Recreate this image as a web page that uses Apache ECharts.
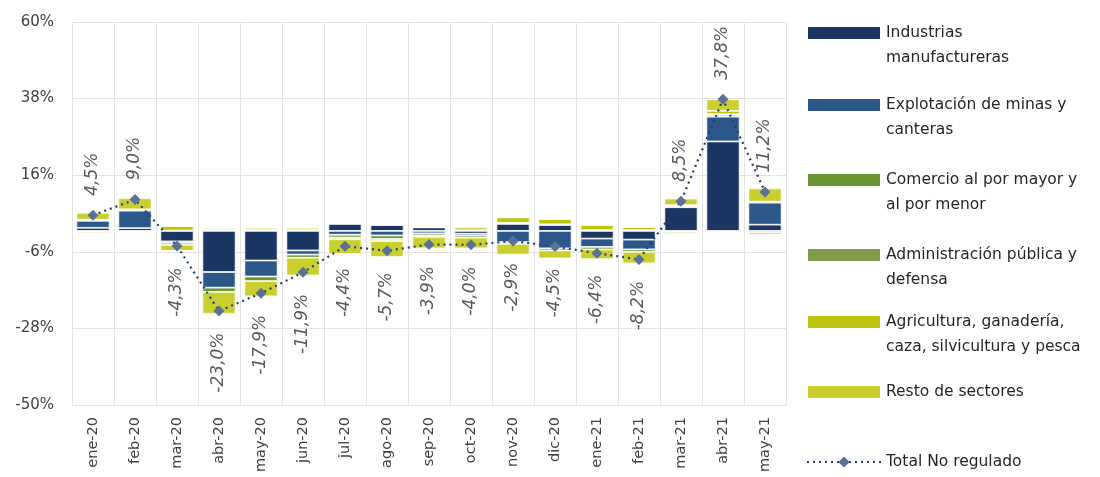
<!DOCTYPE html>
<html>
<head>
<meta charset="utf-8">
<script src="https://cdn.jsdelivr.net/npm/echarts@6/dist/echarts.min.js"></script>
<style>
  html, body { margin: 0; padding: 0; background: #ffffff; }
  #chart { width: 1100px; height: 477px; }
</style>
</head>
<body>
<div id="chart"></div>
<script>
// Months on the horizontal axis
const categories = ['ene-20','feb-20','mar-20','abr-20','may-20','jun-20','jul-20','ago-20','sep-20',
  'oct-20','nov-20','dic-20','ene-21','feb-21','mar-21','abr-21','may-21'];

// Contribution of each sector (percentage points)
const industrias  = [0.9, 0.8, -3.0, -11.8, -8.5, -5.6, 2.0, 1.7, 1.0, -0.8, 2.0, 1.7, -2.2, -2.5, 6.8, 25.7, 1.8];
const explotacion = [2.0, 5.0, -0.4, -4.5, -4.6, -1.2, -1.1, -1.3, -0.7, -0.5, -3.2, -5.0, -2.4, -2.8, 0.3, 7.1, 6.3];
const comercio    = [0.3, 0.4, -0.6, -1.2, -1.3, -0.9, -0.8, -1.0, -0.6, -0.6, -0.5, -0.6, -0.7, -0.7, 0.3, 0.5, 0.3];
const administracion = [-0.3, -0.2, 0.1, 0.3, 0.3, 0.3, 0.2, 0.1, 0.1, 0.2, 0.3, 0.2, 0.2, 0.2, -0.3, 0.2, -0.4];
const agricultura = [-0.4, -0.2, 1.3, 0.5, 0.6, 0.6, -0.5, -0.6, -0.4, 0.8, 1.6, 1.5, 1.5, 0.9, -0.5, 1.0, -0.6];
const resto       = [2.0, 3.2, -1.7, -6.3, -4.4, -5.1, -4.2, -4.6, -3.3, -3.1, -3.1, -2.3, -2.8, -3.3, 1.9, 3.3, 3.8];

// Total variation
const totalNoRegulado = [4.5, 9.0, -4.3, -23.0, -17.9, -11.9, -4.4, -5.7, -3.9, -4.0, -2.9, -4.5, -6.4, -8.2, 8.5, 37.8, 11.2];

// Value axis ticks
const yMin = -50, yMax = 60, yStep = 22;

const seriesNames = [
  'Industrias manufactureras',
  'Explotación de minas y canteras',
  'Comercio al por mayor y al por menor',
  'Administración pública y defensa',
  'Agricultura, ganadería, caza, silvicultura y pesca',
  'Resto de sectores',
  'Total No regulado'
];
const legendText = [
  'Industrias\nmanufactureras',
  'Explotación de minas y\ncanteras',
  'Comercio al por mayor y\nal por menor',
  'Administración pública y\ndefensa',
  'Agricultura, ganadería,\ncaza, silvicultura y pesca',
  'Resto de sectores',
  'Total No regulado'
];
const sectorData = [industrias, explotacion, comercio, administracion, agricultura, resto];
const sectorColors = ['#1b3662', '#2b5789', '#6a9530', '#7f9c4c', '#bcc40e', '#c9cf2e'];

const FONT = 'DejaVu Sans';
const fmtPct = v => v.toFixed(1).replace('.', ',') + '%';

const barSeries = sectorData.map((d, i) => ({
  name: seriesNames[i],
  type: 'bar',
  stack: 'sectores',
  data: d,
  barWidth: '79%',
  itemStyle: { color: sectorColors[i], borderColor: '#ffffff', borderWidth: 0.8 },
  emphasis: { disabled: true }
}));

const lineSeries = {
  name: seriesNames[6],
  type: 'line',
  data: totalNoRegulado.map(v => ({
    value: v,
    label: v >= 0
      ? { position: 'top', align: 'left', verticalAlign: 'middle', distance: 14 }
      : { position: 'bottom', align: 'right', verticalAlign: 'middle', distance: 16 }
  })),
  z: 5,
  symbol: 'diamond',
  symbolSize: 11,
  itemStyle: { color: '#5b7296' },
  lineStyle: { color: '#24406e', width: 2.2, type: [2, 4] },
  label: {
    show: true,
    rotate: 90,
    formatter: p => fmtPct(p.value),
    fontFamily: FONT,
    fontSize: 17,
    fontStyle: 'italic',
    color: '#5a5a5a'
  },
  emphasis: { disabled: true }
};

// Legend: one block per item; two-line entries get an empty leading line
// so the colour key sits level with the first line of text
const legendCenters = [33, 105, 180, 255, 322, 392, 462];
const LH = 25;
const legends = seriesNames.map((name, i) => {
  const twoLines = legendText[i].indexOf('\n') >= 0;
  return {
    data: [name],
    left: 806,
    top: legendCenters[i] - (twoLines ? LH * 1.5 : LH / 2),
    orient: 'vertical',
    itemWidth: 74,
    itemHeight: 14,
    itemGap: 0,
    padding: 0,
    selectedMode: false,
    icon: i < 6 ? 'rect' : undefined,
    formatter: () => (twoLines ? ' \n' : '') + legendText[i],
    textStyle: {
      fontFamily: FONT,
      fontSize: 15.5,
      color: '#262626',
      lineHeight: LH
    }
  };
});

const chart = echarts.init(document.getElementById('chart'), null, { renderer: 'canvas' });
chart.setOption({
  animation: false,
  backgroundColor: '#ffffff',
  textStyle: { fontFamily: FONT },
  grid: { left: 72, right: 314, top: 22, bottom: 72, containLabel: false },
  legend: legends,
  xAxis: {
    type: 'category',
    data: categories,
    axisLine: { show: false },
    axisTick: { show: false },
    splitLine: { show: true, lineStyle: { color: '#e3e3e3', width: 1 } },
    axisLabel: {
      rotate: 90,
      interval: 0,
      margin: 12,
      fontFamily: FONT,
      fontSize: 14.5,
      color: '#404040'
    }
  },
  yAxis: {
    type: 'value',
    min: yMin,
    max: yMax,
    interval: yStep,
    axisLine: { show: false },
    axisTick: { show: false },
    splitLine: { show: true, lineStyle: { color: '#e3e3e3', width: 1 } },
    axisLabel: {
      formatter: v => Math.round(v) + '%',
      margin: 18,
      fontFamily: FONT,
      fontSize: 15,
      color: '#404040'
    }
  },
  series: [...barSeries, lineSeries]
});
</script>
</body>
</html>
